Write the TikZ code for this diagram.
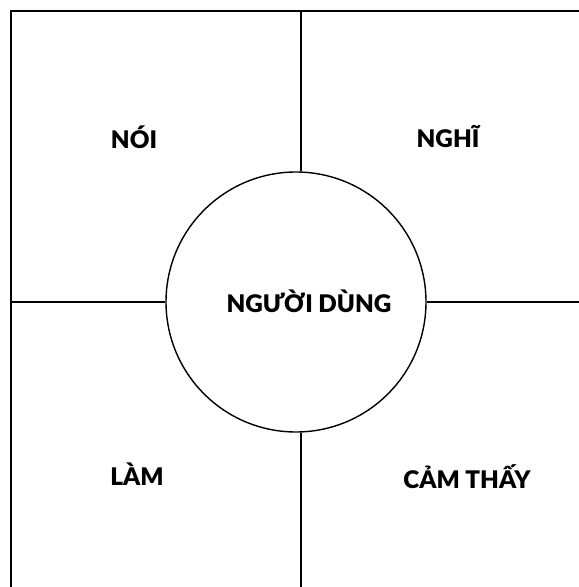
\documentclass[tikz,border=0pt]{standalone}
\usepackage{fontspec}
\setmainfont{Lato}[BoldFont={Lato Black}]
\usepackage{tikz}
\usetikzlibrary{positioning,calc}
\definecolor{lineBlack}{RGB}{0,0,0}
\tikzset{
  quadLabel/.style={font=\fontsize{34.5}{40}\selectfont\bfseries,text=lineBlack,inner sep=0pt},
  userCircle/.style={circle,draw=lineBlack,line width=2pt,minimum size=13cm,inner sep=0pt},
  gridLine/.style={draw=lineBlack,line width=2pt},
}
\begin{document}
\begin{tikzpicture}[x=0.05cm,y=-0.05cm]
  \useasboundingbox (0,0) rectangle (579,587);
  \clip (0,0) rectangle (579,587);
  % outer frame, cut by the page edge
  \draw[gridLine] (11,11) rectangle (620,620);
  \coordinate (ft) at (301,11);
  \coordinate (fb) at (301,620);
  \coordinate (fl) at (11,302);
  \coordinate (fr) at (620,302);
  \node[userCircle](user) at (296,302) {};
  \draw[gridLine] (ft) -- (ft |- user.north);
  \draw[gridLine] (fb) -- (fb |- user.south);
  \draw[gridLine] (fl) -- (user.west);
  \draw[gridLine] (fr) -- (user.east);
  \node[quadLabel](center) at (309,301) {NGƯỜI DÙNG};
  \node[quadLabel](noi)    at (134,137) {NÓI};
  \node[quadLabel](nghi)   at (448,137) {NGHĨ};
  \node[quadLabel](lam)    at (137,474) {LÀM};
  \node[quadLabel](cam)    at (467,477) {CẢM THẤY};
\end{tikzpicture}
\end{document}
